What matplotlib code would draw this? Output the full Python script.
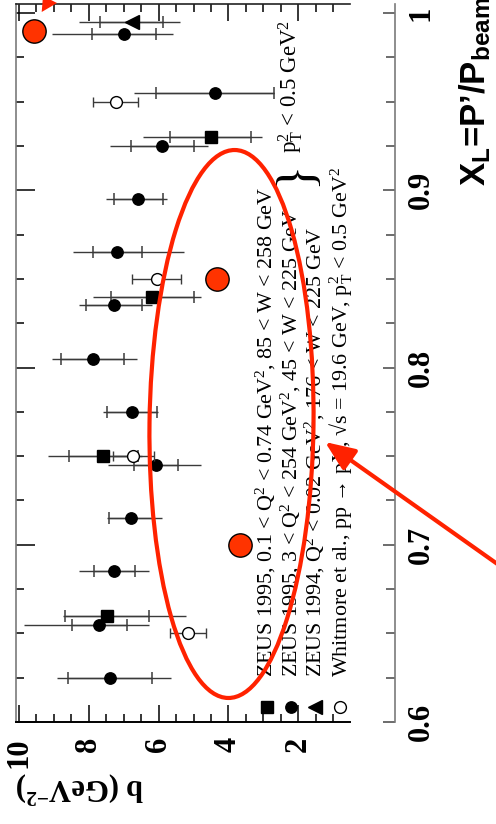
import matplotlib
matplotlib.use('Agg')
import matplotlib.pyplot as plt
from matplotlib.patches import Ellipse, FancyArrowPatch, Polygon
from matplotlib.ticker import FixedLocator, FixedFormatter, MultipleLocator

plt.rcParams['mathtext.fontset'] = 'custom'
plt.rcParams['mathtext.rm'] = 'Liberation Serif'
plt.rcParams['mathtext.it'] = 'Liberation Serif:italic'
plt.rcParams['mathtext.bf'] = 'Liberation Serif:bold'
plt.rcParams['mathtext.sf'] = 'Liberation Sans:bold'

# ---------------- data (x_L, slope b) ----------------
# ZEUS 1995, 3 < Q2 < 254 (filled circles)
xl_circ = [0.625, 0.655, 0.685, 0.715, 0.745, 0.775, 0.805, 0.835, 0.865, 0.895, 0.925, 0.955, 0.988]
b_circ = [7.39, 7.70, 7.27, 6.79, 6.08, 6.77, 7.89, 7.27, 7.18, 6.58, 5.89, 4.38, 6.99]
stat_circ = [1.21, 0.79, 0.58, 0.62, 0.63, 0.71, 0.90, 0.80, 0.70, 0.70, 0.90, 1.69, 0.91]
totup_circ = [1.51, 2.15, 1.00, 0.68, 1.36, 0.83, 1.16, 1.00, 1.28, 0.93, 1.50, 2.32, 2.06]
totdn_circ = [1.74, 1.43, 1.00, 0.88, 1.29, 0.76, 1.28, 1.07, 1.91, 0.81, 1.31, 1.69, 1.41]

# ZEUS 1995, 0.1 < Q2 < 0.74 (filled squares)
xl_sq = [0.66, 0.75, 0.84, 0.93]
b_sq = [7.47, 7.58, 6.18, 4.51]
stat_sq = [1.20, 1.00, 1.18, 1.17]
totup_sq = [1.26, 1.60, 1.69, 1.93]
totdn_sq = [2.25, 1.10, 1.39, 1.46]

# ZEUS 1994 photoproduction (filled triangle)
xl_tri = [0.995]
b_tri = [6.77]
stat_tri = [0.91]
totup_tri = [1.51]
totdn_tri = [1.38]

# Whitmore et al. (open circles)
xl_wh = [0.65, 0.75, 0.85, 0.95]
b_wh = [5.15, 6.72, 6.06, 7.23]
err_wh = [0.52, 0.59, 0.71, 0.65]

# highlighted red points
xl_red = [0.70, 0.85, 0.99]
b_red = [3.67, 4.34, 9.57]

b_ticks = [2, 4, 6, 8, 10]
b_ticklabels = ['2', '4', '6', '8', '10']
xl_ticks = [0.6, 0.7, 0.8, 0.9, 1.0]
xl_ticklabels = ['0.6', '0.7', '0.8', '0.9', '1']

legend_labels = [
    'ZEUS 1995, 0.1 < Q$^2$ < 0.74 GeV$^2$, 85 < W < 258 GeV',
    'ZEUS 1995, 3 < Q$^2$ < 254 GeV$^2$, 45 < W < 225 GeV',
    'ZEUS 1994, Q$^2$ < 0.02 GeV$^2$, 176 < W < 225 GeV',
    'Whitmore et al., pp \u2192 pX, \u221As = 19.6 GeV, p$_\\mathrm{T}^2$ < 0.5 GeV$^2$',
]
pt_label = 'p$_\\mathrm{T}^2$ < 0.5 GeV$^2$'

# ---------------- figure ----------------
W, H = 496, 824
fig = plt.figure(figsize=(W / 100, H / 100), dpi=100)
ax = fig.add_axes([16 / W, 1 - 722 / H, 334 / W, 718 / H])
ax2 = ax.twinx()

serif = ['Liberation Serif', 'DejaVu Serif']
ecol = '#3a3a3a'


def zeus(b, xl, stat, up, dn, marker, ms):
    ax.errorbar(b, xl, xerr=[dn, up], fmt='none', ecolor=ecol, elinewidth=1.0,
                capsize=0, zorder=2)
    ax.errorbar(b, xl, xerr=stat, fmt='none', ecolor=ecol, elinewidth=1.0,
                capsize=4.3, capthick=1.1, zorder=2)
    ax.plot(b, xl, linestyle='none', marker=marker, ms=ms, color='black',
            mec='black', zorder=3)


zeus(b_circ, xl_circ, stat_circ, totup_circ, totdn_circ, 'o', 8.2)
zeus(b_sq, xl_sq, stat_sq, totup_sq, totdn_sq, 's', 8.4)
zeus(b_tri, xl_tri, stat_tri, totup_tri, totdn_tri, '<', 9.5)
ax.errorbar(b_wh, xl_wh, xerr=err_wh, fmt='o', ms=8.5, mfc='white', mec='black',
            mew=1.0, ecolor=ecol, elinewidth=1.0, capsize=3.9, capthick=1.1, zorder=3)
ax.plot(b_red, xl_red, linestyle='none', marker='o', ms=16.8, mfc='#ff3300',
        mec='black', mew=1.0, zorder=6, clip_on=False)

ax.set_xlim(10.086, 0.516)
ax.set_ylim(0.6, 1.0051)
ax2.set_ylim(0.6, 1.0051)

ax.xaxis.set_major_locator(FixedLocator(b_ticks))
ax.xaxis.set_major_formatter(FixedFormatter(b_ticklabels))
ax.xaxis.set_minor_locator(MultipleLocator(0.5))
ax.tick_params(axis='x', which='both', direction='in', top=True, bottom=True,
               labelrotation=90, labelsize=22, pad=10.8, width=1.1, color='black')
ax.tick_params(axis='x', which='major', length=12)
ax.tick_params(axis='x', which='minor', length=6)
for t in ax.get_xticklabels():
    t.set_family(serif)
    t.set_weight('bold')

ax.yaxis.set_major_locator(FixedLocator(xl_ticks))
ax.yaxis.set_minor_locator(MultipleLocator(0.025))
ax.tick_params(axis='y', which='both', direction='in', left=True, right=False,
               labelleft=False, labelright=False, width=1.1)
ax.tick_params(axis='y', which='major', length=13.7)
ax.tick_params(axis='y', which='minor', length=5.8)

ax.spines['right'].set_visible(False)
ax.spines['left'].set_color('#7a7a7a')
ax.spines['left'].set_linewidth(1.2)
ax.spines['bottom'].set_color('black')
ax.spines['bottom'].set_linewidth(1.4)
ax.spines['top'].set_color('#222222')
ax.spines['top'].set_linewidth(1.2)

for s in ['left', 'top', 'bottom']:
    ax2.spines[s].set_visible(False)
ax2.spines['right'].set_position(('outward', 32.4))
ax2.spines['right'].set_color('#7a7a7a')
ax2.spines['right'].set_linewidth(1.2)
ax2.yaxis.set_major_locator(FixedLocator(xl_ticks))
ax2.yaxis.set_major_formatter(FixedFormatter(xl_ticklabels))
ax2.yaxis.set_minor_locator(MultipleLocator(0.025))
ax2.tick_params(axis='y', which='both', direction='in', right=True, left=False,
                labelright=True, labelrotation=90, labelsize=22, pad=8.6,
                width=1.1, color='#444444')
ax2.tick_params(axis='y', which='major', length=8.6)
ax2.tick_params(axis='y', which='minor', length=6.5)
for t in ax2.get_yticklabels():
    t.set_family(serif)
    t.set_weight('bold')
    t.set_verticalalignment('center')

ax.text((80 - 16) / 334, (722 - 788) / 718, 'b (GeV$^{\\mathbf{-2}}$)',
        transform=ax.transAxes, rotation=180, ha='center', va='center',
        fontsize=22, family=serif, weight='bold')

# ---------------- overlay (legend and annotations) ----------------
ov = fig.add_axes([0, 0, 1, 1], facecolor='none')
ov.set_xlim(0, W)
ov.set_ylim(H, 0)
ov.axis('off')

leg_x = [267, 291, 315, 339.5]
leg_base = [272.7, 297, 321.7, 346.7]
leg_style = [dict(marker='s', ms=8.4, mfc='black', mec='black'),
             dict(marker='o', ms=8.2, mfc='black', mec='black'),
             dict(marker='<', ms=9.5, mfc='black', mec='black'),
             dict(marker='o', ms=8.5, mfc='white', mec='black', mew=1.0)]
for i in range(4):
    ov.plot([leg_x[i]], [706.5], linestyle='none', **leg_style[i])
    ov.text(leg_base[i], 677, legend_labels[i], rotation=90, rotation_mode='anchor',
            ha='left', va='baseline', fontsize=15.8, family=serif)

ov.text(296, 173, '}', rotation=90, rotation_mode='anchor', ha='center',
        va='center', fontsize=38, family=serif)
ov.text(297, 153, pt_label, rotation=90, rotation_mode='anchor', ha='left',
        va='baseline', fontsize=16.5, family=serif)

ov.text(486, 186, 'X$_\\mathsf{L}$=P\u2019/P$_\\mathsf{beam}$', rotation=90,
        rotation_mode='anchor', ha='left', va='baseline', fontsize=25,
        family=['Liberation Sans', 'DejaVu Sans'], weight='bold')

red = '#ff2200'
ov.add_patch(Ellipse((231.5, 424), width=164, height=548, angle=0.7,
                     fill=False, edgecolor=red, linewidth=3.0, zorder=10))
ov.add_patch(FancyArrowPatch((520, 580), (325, 442),
                             arrowstyle='-|>,head_length=1.8,head_width=0.75',
                             mutation_scale=10, color=red, linewidth=3.0,
                             shrinkA=0, shrinkB=0, zorder=10))
ov.add_patch(Polygon([(41.7, 12), (43, -4), (57, 3)], closed=True,
                     facecolor=red, edgecolor='none', zorder=10))

fig.savefig('out.png', dpi=100)
